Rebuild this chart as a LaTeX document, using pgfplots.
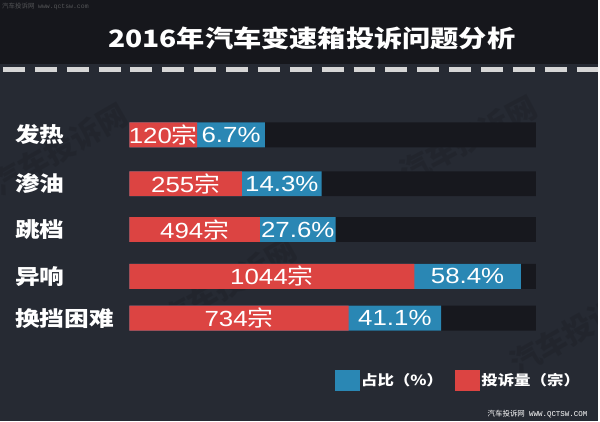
\documentclass[border=0pt]{standalone}
\usepackage{pgfplots}
\pgfplotsset{compat=1.18}
\usepackage{graphicx}
\usepackage{fontspec}
\setmainfont{Liberation Sans}
\newfontfamily\cjk{Noto Sans CJK SC}
\newfontfamily\monof{Liberation Mono}
\definecolor{bgmain}{HTML}{262A33}
\definecolor{bghead}{HTML}{16171C}
\definecolor{trackc}{HTML}{17181E}
\definecolor{redc}{HTML}{DC4442}
\definecolor{bluec}{HTML}{2A87B4}
\definecolor{dashc}{HTML}{D6D6D6}
\DeclareRobustCommand\zong{{\cjk 宗}}
\DeclareRobustCommand\sx[1]{\scalebox{1.18}[1]{#1}}
\begin{document}
\begin{tikzpicture}
\begin{axis}[
  scale only axis, width=600bp, height=423bp,
  xmin=-130, xmax=470, ymin=0, ymax=423, y dir=reverse,
  hide axis, clip=false,
  legend style={at={(axis description cs:0.555,0.097)}, anchor=west, draw=none, fill=none,
    legend columns=2, text=white, font=\fontsize{14bp}{16bp}\selectfont,
    /tikz/every even column/.append style={column sep=10bp}},
  legend cell align=left,
]
% background
\fill[bgmain] (axis cs:-130,0) rectangle (axis cs:470,423);
\fill[bghead] (axis cs:-130,0) rectangle (axis cs:470,64);
\draw[dashc, line width=5bp, dash pattern=on 22bp off 10bp] (axis cs:-127,69.5) -- (axis cs:470,69.5);
% watermarks
\begin{scope}[overlay]
\clip (axis cs:-130,64) rectangle (axis cs:470,423);
\node[rotate=30, text=black, opacity=0.1, font=\cjk\bfseries\fontsize{30bp}{30bp}\selectfont] at (axis cs:-70,150) {汽车投诉网};
\node[rotate=28, text=black, opacity=0.1, font=\cjk\bfseries\fontsize{30bp}{30bp}\selectfont] at (axis cs:340,140) {汽车投诉网};
\node[rotate=30, text=black, opacity=0.1, font=\cjk\bfseries\fontsize{30bp}{30bp}\selectfont] at (axis cs:100,285) {汽车投诉网};
\node[rotate=30, text=black, opacity=0.1, font=\cjk\bfseries\fontsize{30bp}{30bp}\selectfont] at (axis cs:450,330) {汽车投诉网};
\end{scope}
% title and small texts
\node[text=white, font=\cjk\bfseries\fontsize{24bp}{24bp}\selectfont] at (axis cs:183,38.5) {\sx{2016年汽车变速箱投诉问题分析}};
\node[anchor=west, text=gray!60!bghead, font=\fontsize{6.5bp}{7bp}\selectfont, inner sep=0pt] at (axis cs:-128,6) {{\cjk 汽车投诉网}\ \ {\monof www.qctsw.com}};
\node[anchor=east, text=white, font=\fontsize{7.5bp}{8bp}\selectfont, inner sep=0pt] at (axis cs:460,416) {{\cjk 汽车投诉网}\ \ {\monof WWW.QCTSW.COM}};
% track
\addplot[xbar, bar shift=0pt, bar width=25, fill=trackc, draw=none, forget plot]
  coordinates {(408,135.5) (408,184.5) (408,230.5) (408,277.5) (408,319.5)};
% blue (cumulative end)
\addplot[xbar, bar shift=0pt, bar width=25, fill=bluec, draw=none, forget plot]
  coordinates {(136,135.5) (193,184.5) (207,230.5) (393,277.5) (313,319.5)};
% red
\addplot[xbar, bar shift=0pt, bar width=25, fill=redc, draw=none, forget plot]
  coordinates {(68,135.5) (113,184.5) (131,230.5) (286,277.5) (220,319.5)};
% bar labels
\addplot[draw=none, mark=none, forget plot, point meta=explicit symbolic,
  nodes near coords={\sx{\pgfplotspointmeta}},
  every node near coord/.append style={anchor=center, text=white, inner sep=0pt, font=\fontsize{22bp}{22bp}\selectfont}]
  coordinates {(34,135.5)[{120\zong}] (56.5,184.5)[{255\zong}] (65.5,230.5)[{494\zong}] (143,277.5)[{1044\zong}] (110,319.5)[{734\zong}]
   (102,135.5)[{6.7\%}] (153,184.5)[{14.3\%}] (169,230.5)[{27.6\%}] (339.5,277.5)[{58.4\%}] (266.5,319.5)[{41.1\%}]};
% category labels
\addplot[draw=none, mark=none, forget plot, point meta=explicit symbolic,
  nodes near coords={\sx{\cjk\bfseries\pgfplotspointmeta}},
  every node near coord/.append style={anchor=west, text=white, inner sep=0pt, font=\fontsize{21bp}{21bp}\selectfont}]
  coordinates {(-115,135.5)[发热] (-115,184.5)[渗油] (-115,230.5)[跳档] (-115,277.5)[异响] (-115,319.5)[换挡困难]};
% legend
\addlegendimage{legend image code/.code={\fill[bluec] (0bp,-10bp) rectangle (24bp,10bp);}}
\addlegendentry{\sx{\cjk\bfseries 占比（\%）}}
\addlegendimage{legend image code/.code={\fill[redc] (0bp,-10bp) rectangle (24bp,10bp);}}
\addlegendentry{\sx{\cjk\bfseries 投诉量（宗）}}
\end{axis}
\end{tikzpicture}
\end{document}
